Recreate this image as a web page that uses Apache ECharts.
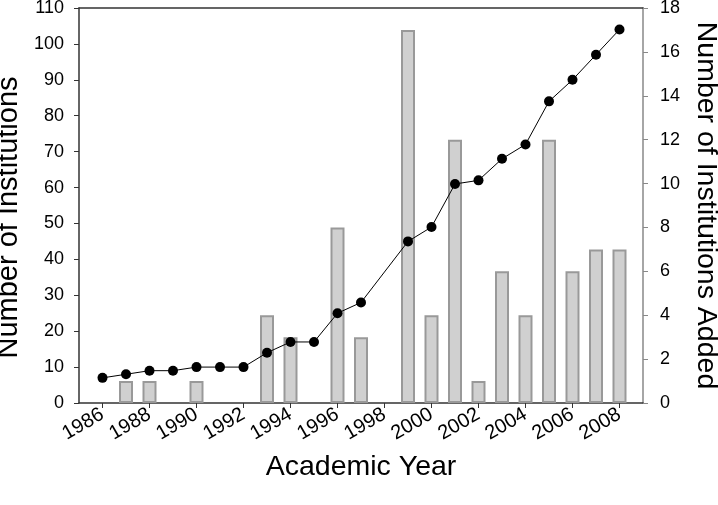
<!DOCTYPE html>
<html>
<head>
<meta charset="utf-8">
<script src="https://cdn.jsdelivr.net/npm/echarts@6/dist/echarts.min.js"></script>
<style>html,body{margin:0;padding:0;background:#fff}#c{width:718px;height:505px}</style>
</head>
<body>
<div id="c"></div>
<script>
const years = [1986,1987,1988,1989,1990,1991,1992,1993,1994,1995,1996,1997,1998,1999,2000,2001,2002,2003,2004,2005,2006,2007,2008];
const totalInstitutions = [7,8,9,9,10,10,10,14,17,17,25,28,null,45,49,61,62,68,72,84,90,97,104];
const addedInstitutions = [0,1,1,0,1,0,0,4,3,0,8,3,0,17,4,12,1,6,4,12,6,7,7];
const yearTicks = [1986,1988,1990,1992,1994,1996,1998,2000,2002,2004,2006,2008];
const leftTicks = [0,10,20,30,40,50,60,70,80,90,100,110];
const rightTicks = [0,2,4,6,8,10,12,14,16,18];

const font = 'Liberation Sans, Arial, sans-serif';
const chart = echarts.init(document.getElementById('c'));
chart.setOption({
  animation: false,
  backgroundColor: '#fff',
  grid: {left: 79, right: 75, top: 8, bottom: 102, containLabel: false, outerBoundsMode: 'none'},
  xAxis: [{
    type: 'value', min: 1985, max: 2009, position: 'bottom',
    name: 'Academic Year', nameLocation: 'middle', nameGap: 50,
    nameTextStyle: {fontSize: 28.5, color: '#000', fontFamily: font},
    axisLine: {lineStyle: {color: '#333', width: 1.5}},
    axisTick: {show: true, length: 5, customValues: yearTicks, lineStyle: {color: '#333'}},
    axisLabel: {customValues: yearTicks, rotate: 30, margin: 10, fontSize: 20, color: '#000', fontFamily: font,
      formatter: v => String(v)},
    splitLine: {show: false}
  }, {
    type: 'value', min: 1985, max: 2009, position: 'top',
    axisLine: {show: true, onZero: false, lineStyle: {color: '#333', width: 1.5}},
    axisTick: {show: false}, axisLabel: {show: false}, splitLine: {show: false}
  }],
  yAxis: [{
    type: 'value', min: 0, max: 110, interval: 10, position: 'left',
    name: 'Number of Institutions', nameLocation: 'middle', nameGap: 45, nameRotate: 90,
    nameTextStyle: {fontSize: 29, color: '#000', fontFamily: font, padding: [0, 24, 0, 0]},
    axisLine: {show: true, lineStyle: {color: '#333', width: 1.5}},
    axisTick: {show: true, length: 5, lineStyle: {color: '#333'}},
    axisLabel: {margin: 15, fontSize: 18, color: '#000', fontFamily: font},
    splitLine: {show: false}
  }, {
    type: 'value', min: 0, max: 18, interval: 2, position: 'right',
    name: 'Number of Institutions Added', nameLocation: 'middle', nameGap: 48, nameRotate: -90,
    nameTextStyle: {fontSize: 28.5, color: '#000', fontFamily: font},
    axisLine: {show: true, lineStyle: {color: '#888', width: 1.5}},
    axisTick: {show: true, length: 5, lineStyle: {color: '#888'}},
    axisLabel: {margin: 17, fontSize: 18, color: '#000', fontFamily: font},
    splitLine: {show: false}
  }],
  series: [{
    type: 'bar', xAxisIndex: 0, yAxisIndex: 1, barWidth: 14,
    data: years.map((y, i) => [y, addedInstitutions[i] === 0 ? '-' : addedInstitutions[i]]),
    itemStyle: {color: '#d0d0d0', borderColor: '#999', borderWidth: 2},
    z: 2
  }, {
    type: 'line', xAxisIndex: 0, yAxisIndex: 0, connectNulls: true,
    data: years.map((y, i) => [y, totalInstitutions[i]]),
    symbol: 'circle', symbolSize: 10,
    lineStyle: {color: '#000', width: 1},
    itemStyle: {color: '#000'},
    z: 3
  }]
});
</script>
</body>
</html>
